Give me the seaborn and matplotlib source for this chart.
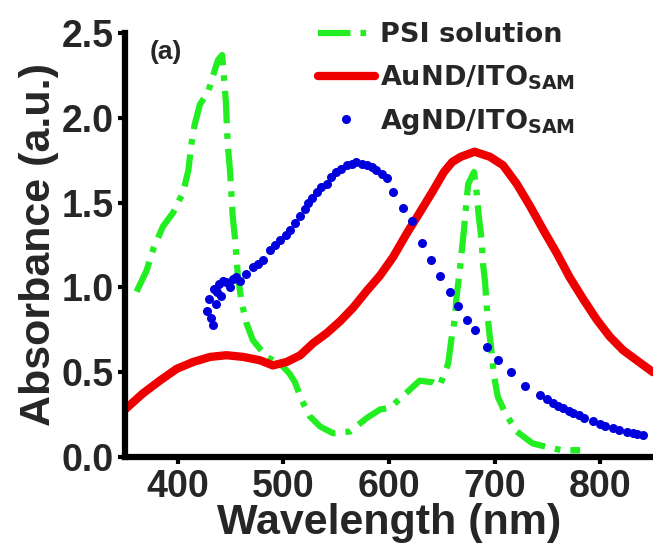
import matplotlib
matplotlib.use("Agg")
import matplotlib.pyplot as plt
from matplotlib.legend_handler import HandlerLine2D
import seaborn as sns
import pandas as pd

# ---------------- data ----------------
psi_wl = [361, 370.5, 377, 386, 395.5, 405, 410, 413, 416, 421, 428.6, 433, 438, 442,
          445.6, 446.6, 447.5, 449.4, 451, 452, 454, 455.8, 457, 460.5, 465, 471, 484,
          497, 506, 511, 517, 525, 534.7, 547, 563, 579, 591.5, 601, 615, 629, 641.7,
          648, 656, 659, 662.5, 664, 667, 669, 671, 673, 675, 680.5, 683, 685, 687.7,
          689, 691, 692.5, 694.7, 696.6, 699.4, 703, 710, 721, 736, 749, 763.5, 781]
psi_abs = [0.975, 1.10, 1.23, 1.36, 1.44, 1.56, 1.69, 1.85, 1.96, 2.08, 2.15, 2.24, 2.34, 2.37,
           2.09, 1.93, 1.83, 1.69, 1.53, 1.42, 1.30, 1.16, 1.06, 0.91, 0.79, 0.69, 0.59,
           0.55, 0.49, 0.44, 0.34, 0.24, 0.18, 0.14, 0.15, 0.23, 0.28, 0.29, 0.37, 0.45, 0.44,
           0.42, 0.55, 0.69, 0.82, 0.945, 1.10, 1.22, 1.34, 1.48, 1.61, 1.68, 1.56, 1.42, 1.28,
           1.14, 1.03, 0.89, 0.75, 0.65, 0.48, 0.355, 0.26, 0.15, 0.08, 0.06, 0.04, 0.04]

au_wl = [350, 367, 383, 399, 414.5, 430.5, 446, 462, 478, 490, 503, 516, 528, 541, 553.6,
         566, 579, 591.5, 604, 617, 629, 641.7, 652, 660, 668, 681, 695.6, 708, 721, 733.5,
         746, 759, 771, 784, 796.7, 809, 821.6, 834.6, 850]
au_abs = [0.28, 0.375, 0.45, 0.52, 0.56, 0.59, 0.60, 0.59, 0.57, 0.54, 0.56, 0.60, 0.67, 0.73,
          0.80, 0.88, 0.98, 1.07, 1.18, 1.32, 1.44, 1.57, 1.68, 1.74, 1.77, 1.80, 1.77, 1.72,
          1.61, 1.48, 1.34, 1.20, 1.06, 0.93, 0.81, 0.71, 0.63, 0.57, 0.50]

ag_wl = [428, 430, 431, 433, 434, 436, 437, 439, 441, 443, 446, 449, 452, 455, 459,
         465, 471, 476, 481, 487, 492, 497, 502, 506, 511, 516, 520, 523, 527, 531.5,
         536, 541, 545, 550, 555, 560, 565, 569, 574, 579, 584, 588, 593, 598, 604,
         613, 621.5, 631, 640, 648, 657.8, 665, 673.6, 681, 692.5, 703, 716, 729, 743,
         750, 755, 760, 765, 770, 774, 780, 785, 793, 800, 805, 812, 818, 825, 831,
         835, 840.5]
ag_abs = [0.86, 0.93, 0.82, 0.78, 0.99, 0.90, 0.97, 1.02, 0.95, 1.04, 1.03, 1.00, 1.05, 1.06, 1.04,
          1.08, 1.12, 1.14, 1.16, 1.22, 1.25, 1.28, 1.31, 1.34, 1.38, 1.42, 1.46, 1.50, 1.53, 1.56,
          1.59, 1.61, 1.65, 1.68, 1.70, 1.72, 1.73, 1.74, 1.73, 1.72, 1.71, 1.69, 1.67, 1.645, 1.56,
          1.47, 1.39, 1.26, 1.16, 1.07, 0.97, 0.89, 0.81, 0.75, 0.65, 0.57, 0.50, 0.42, 0.365,
          0.34, 0.32, 0.30, 0.29, 0.27, 0.26, 0.245, 0.23, 0.21, 0.195, 0.18, 0.17, 0.16, 0.15, 0.14,
          0.135, 0.13]

labels = ["PSI solution", r"AuND/ITO$_{\mathbf{SAM}}$", r"AgND/ITO$_{\mathbf{SAM}}$"]
x_ticks = [400, 500, 600, 700, 800]
y_ticks = [0.0, 0.5, 1.0, 1.5, 2.0, 2.5]

# ---------------- style ----------------
sns.set_style("ticks")
plt.rcParams["font.family"] = ["Liberation Sans", "DejaVu Sans"]
plt.rcParams["font.weight"] = "bold"
plt.rcParams["mathtext.fontset"] = "custom"
plt.rcParams["mathtext.rm"] = "DejaVu Sans:bold"
plt.rcParams["mathtext.bf"] = "DejaVu Sans:bold"

GREEN = "#22EE22"
RED = "#EE0000"
BLUE = "#0000DD"

fig = plt.figure(figsize=(6.53, 5.49), dpi=100)
ax = fig.add_axes([0.1914, 0.1676, 0.8086, 0.7723])

psi_df = pd.DataFrame({"wl": psi_wl, "abs": psi_abs})
au_df = pd.DataFrame({"wl": au_wl, "abs": au_abs})
ag_df = pd.DataFrame({"wl": ag_wl, "abs": ag_abs})

sns.lineplot(data=psi_df, x="wl", y="abs", ax=ax, color=GREEN, lw=4.5,
             label=labels[0], sort=False, estimator=None)
ax.lines[-1].set_dashes((5.2, 1.6, 0.9, 1.6))
sns.lineplot(data=au_df, x="wl", y="abs", ax=ax, color=RED, lw=6,
             label=labels[1], sort=False, estimator=None)
sns.lineplot(data=ag_df, x="wl", y="abs", ax=ax, color=BLUE, lw=0, marker="o",
             markersize=6.5, markeredgewidth=0, label=labels[2], sort=False,
             estimator=None)

ax.set_xlim(350, 850)
ax.set_ylim(0, 2.5)
ax.set_xticks(x_ticks)
ax.set_yticks(y_ticks)
ax.set_yticklabels([f"{v:.1f}" for v in y_ticks])

for s in ["top", "right"]:
    ax.spines[s].set_visible(False)
for s in ["left", "bottom"]:
    ax.spines[s].set_linewidth(4.5)
    ax.spines[s].set_color("black")

ax.tick_params(axis="both", direction="out", length=5, width=3, color="black")
ax.tick_params(axis="x", pad=4)
ax.tick_params(axis="y", pad=3)
for lab in ax.get_xticklabels() + ax.get_yticklabels():
    lab.set_fontsize(27)
    lab.set_fontweight("bold")

ax.set_xlabel("Wavelength (nm)", fontsize=31, fontweight="bold", labelpad=-2)
ax.set_ylabel("Absorbance (a.u.)", fontsize=31, fontweight="bold", labelpad=2)

ax.text(0.047, 0.955, "(a)", transform=ax.transAxes, fontsize=19,
        fontweight="bold", ha="left", va="center")


class LeftMarkerHandler(HandlerLine2D):
    def get_xdata(self, legend, xdescent, ydescent, width, height, fontsize):
        xdata, _ = super().get_xdata(legend, xdescent, ydescent, width, height, fontsize)
        return xdata, [-xdescent + 0.12 * width]


handles, _ = ax.get_legend_handles_labels()
leg = ax.legend(handles, labels, loc="upper left", bbox_to_anchor=(0.365, 1.025),
                frameon=False,
                prop={"family": "DejaVu Sans", "weight": "bold", "size": 19.5},
                handlelength=2.1, handletextpad=0.2, labelspacing=0.55,
                borderpad=0, borderaxespad=0,
                handler_map={handles[2]: LeftMarkerHandler(numpoints=1)})

fig.savefig("out.png", dpi=100)
